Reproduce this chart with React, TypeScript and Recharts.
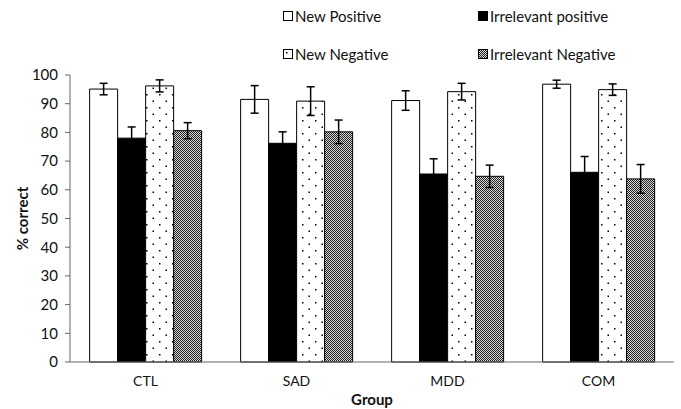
import React from 'react';
import { BarChart, Bar, XAxis, YAxis, ErrorBar } from 'recharts';

const groups = ['CTL', 'SAD', 'MDD', 'COM'];
const newPositive = [95.1, 91.5, 91.1, 96.8];
const newPositiveErr = [2, 4.8, 3.4, 1.4];
const irrelevantPositive = [78, 76.2, 65.5, 66.1];
const irrelevantPositiveErr = [3.9, 4, 5.3, 5.5];
const newNegative = [96.2, 90.9, 94.2, 94.9];
const newNegativeErr = [2.1, 5, 2.9, 2];
const irrelevantNegative = [80.6, 80.2, 64.7, 63.8];
const irrelevantNegativeErr = [2.8, 4.1, 3.9, 5];
const yTicks = [0, 10, 20, 30, 40, 50, 60, 70, 80, 90, 100];
const boundaryTicks = [0, 1, 2, 3, 4];

const data = groups.map((g, i) => ({
    group: g,
    np: newPositive[i],
    npErr: newPositiveErr[i],
    ip: irrelevantPositive[i],
    ipErr: irrelevantPositiveErr[i],
    nn: newNegative[i],
    nnErr: newNegativeErr[i],
    inn: irrelevantNegative[i],
    innErr: irrelevantNegativeErr[i],
}));

const FONT = 'Lato, "Liberation Sans", sans-serif';

const SERIES = [
    { key: 'np', err: 'npErr', name: 'New Positive', fill: '#ffffff' },
    { key: 'ip', err: 'ipErr', name: 'Irrelevant positive', fill: '#000000' },
    { key: 'nn', err: 'nnErr', name: 'New Negative', fill: 'url(#dots)' },
    { key: 'inn', err: 'innErr', name: 'Irrelevant Negative', fill: 'url(#checks)' },
];

const Patterns = ({ suffix = '' }: { suffix?: string }) => (
    <defs>
        <pattern id={`dots${suffix}`} width="13" height="13" patternUnits="userSpaceOnUse">
            <rect width="13" height="13" fill="#fff" />
            <rect x="3" y="3" width="1.5" height="1.5" fill="#000" />
            <rect x="9.5" y="9.5" width="1.5" height="1.5" fill="#000" />
        </pattern>
        <pattern id={`checks${suffix}`} width="2" height="2" patternUnits="userSpaceOnUse">
            <rect width="2" height="2" fill="#d8d8d8" />
            <rect x="0" y="0" width="1" height="1" fill="#222" />
            <rect x="1" y="1" width="1" height="1" fill="#222" />
        </pattern>
    </defs>
);

// legend drawn as plain html so it doesn't eat plot space
const LegendBox = () => (
    <div
        style={{
            position: 'absolute',
            left: 283,
            top: 7,
            display: 'grid',
            gridTemplateColumns: '195px 180px',
            rowGap: 20,
            fontFamily: FONT,
            fontSize: 15,
            color: '#111',
        }}
    >
        {SERIES.map((s, i) => (
            <div key={s.key} style={{ display: 'flex', alignItems: 'center', height: 18, whiteSpace: 'nowrap' }}>
                <svg width="10" height="10" style={{ marginRight: 2 }}>
                    <Patterns suffix={`-l${i}`} />
                    <rect x="0.5" y="0.5" width="9" height="9" fill={s.fill.replace(')', `-l${i})`)} stroke="#000" />
                </svg>
                <span>{s.name}</span>
            </div>
        ))}
    </div>
);

export default function App() {
    return (
        <div style={{ position: 'fixed', left: 0, top: 0, width: 681, height: 409, background: '#fff' }}>
            <BarChart
                width={681}
                height={409}
                data={data}
                margin={{ top: 75, right: 7, left: 0, bottom: 2 }}
                barCategoryGap="13%"
                barGap={0}
            >
                <Patterns />
                <XAxis
                    xAxisId="b"
                    type="number"
                    domain={[0, 4]}
                    ticks={boundaryTicks}
                    tick={false}
                    axisLine={false}
                    tickLine={{ stroke: '#666' }}
                    tickSize={5}
                    height={0}
                />
                <XAxis
                    dataKey="group"
                    axisLine={{ stroke: '#666' }}
                    tickLine={false}
                    tickMargin={8}
                    height={45}
                    tick={{ fill: '#111', fontSize: 14, fontFamily: FONT }}
                    label={{ value: 'Group', position: 'insideBottom', offset: 2, style: { fontFamily: FONT, fontSize: 15, fontWeight: 700, fill: '#111' } }}
                />
                <YAxis
                    domain={[0, 100]}
                    ticks={yTicks}
                    width={70}
                    axisLine={{ stroke: '#666' }}
                    tickLine={{ stroke: '#666' }}
                    tickSize={5}
                    tickMargin={7}
                    tick={{ fill: '#111', fontSize: 15, fontFamily: FONT }}
                    label={{ value: '% correct', angle: -90, position: 'insideLeft', offset: 23, style: { textAnchor: 'middle', fontFamily: FONT, fontSize: 15, fontWeight: 700, fill: '#111' } }}
                />
                {SERIES.map((s) => (
                    <Bar key={s.key} dataKey={s.key} name={s.name} fill={s.fill} stroke="#000" strokeWidth={1} isAnimationActive={false}>
                        <ErrorBar dataKey={s.err} width={4} stroke="#000" strokeWidth={1.5} direction="y" />
                    </Bar>
                ))}
            </BarChart>
            <LegendBox />
        </div>
    );
}
